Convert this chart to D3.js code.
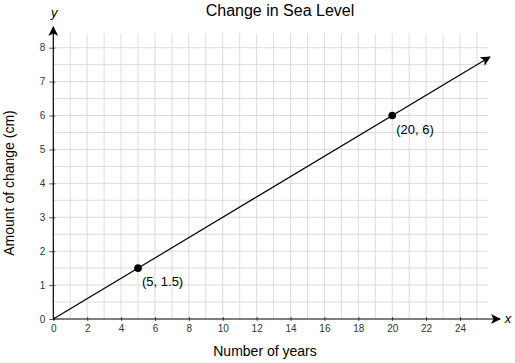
<!DOCTYPE html>
<html>
<head>
<meta charset="utf-8">
<script src="https://cdn.jsdelivr.net/npm/d3@7"></script>
<style>
  body { margin: 0; background: #fff; }
  text { font-family: "Liberation Sans", Arial, sans-serif; }
</style>
</head>
<body>
<div class="chart"></div>
<script>
// データ
var xTicks = [0, 2, 4, 6, 8, 10, 12, 14, 16, 18, 20, 22, 24];
var yTicks = [0, 1, 2, 3, 4, 5, 6, 7, 8];
var pointX = [5, 20];
var pointY = [1.5, 6];
var pointLabels = ["(5, 1.5)", "(20, 6)"];
var lineX = [0, 25.76]; // 直線の始点と終点(矢印)
var slope = 0.3;

var width = 515, height = 363;

// 目盛りの設定
var x = d3.scaleLinear().domain([0, 24]).range([53.3, 460]);
var y = d3.scaleLinear().domain([0, 8]).range([319, 47.7]);

var svg = d3.select("div.chart")
    .append("svg")
    .attr("width", width)
    .attr("height", height);

var defs = svg.append("defs");
defs.append("marker")
    .attr("id", "arrow")
    .attr("viewBox", "0 0 10 10")
    .attr("refX", 9).attr("refY", 5)
    .attr("markerWidth", 10).attr("markerHeight", 10)
    .attr("markerUnits", "userSpaceOnUse")
    .attr("orient", "auto")
    .append("path")
    .attr("d", "M0,0 L10,5 L0,10 L2.5,5 Z")
    .attr("fill", "#000");

// グリッド
var gridXMax = 25.65, gridYMax = 8.42;
var grid = svg.append("g");
grid.selectAll(".vgrid").data(d3.range(1, 26))
    .enter().append("line")
    .attr("x1", function(d) { return x(d); })
    .attr("x2", function(d) { return x(d); })
    .attr("y1", y(0)).attr("y2", y(gridYMax))
    .attr("stroke", "#dcdcdc").attr("stroke-width", 1);
grid.selectAll(".hgrid").data(d3.range(1, 17).map(function(d) { return d / 2; }))
    .enter().append("line")
    .attr("y1", function(d) { return y(d); })
    .attr("y2", function(d) { return y(d); })
    .attr("x1", x(0)).attr("x2", x(gridXMax))
    .attr("stroke", "#dcdcdc").attr("stroke-width", 1);

// X軸
var xAxis = d3.axisBottom(x).tickValues(xTicks).tickSize(4).tickPadding(2);
var gx = svg.append("g")
    .attr("transform", "translate(0," + y(0) + ")")
    .call(xAxis);
gx.select(".domain").remove();
gx.selectAll("line").attr("stroke", "#555").attr("y1", -2).attr("y2", 2);
gx.selectAll("text").style("font-size", "10px").attr("fill", "#333");

// Y軸
var yAxis = d3.axisLeft(y).tickValues(yTicks).tickSize(4).tickPadding(4);
var gy = svg.append("g")
    .attr("transform", "translate(" + x(0) + ",0)")
    .call(yAxis);
gy.select(".domain").remove();
gy.selectAll("line").attr("stroke", "#555").attr("x1", 2).attr("x2", -4);
gy.selectAll("text").style("font-size", "10px").attr("fill", "#333");

// 座標軸の矢印
svg.append("line")
    .attr("x1", x(0)).attr("y1", y(0))
    .attr("x2", 500).attr("y2", y(0))
    .attr("stroke", "#000").attr("stroke-width", 1.2)
    .attr("marker-end", "url(#arrow)");
svg.append("line")
    .attr("x1", x(0)).attr("y1", y(0))
    .attr("x2", x(0)).attr("y2", 27)
    .attr("stroke", "#000").attr("stroke-width", 1.2)
    .attr("marker-end", "url(#arrow)");

svg.append("text").attr("x", 508).attr("y", y(0) + 4)
    .attr("text-anchor", "middle")
    .style("font-size", "13px").style("font-style", "italic")
    .text("x");
svg.append("text").attr("x", x(0) + 1).attr("y", 17)
    .attr("text-anchor", "middle")
    .style("font-size", "13px").style("font-style", "italic")
    .text("y");

// 直線
svg.append("line")
    .attr("x1", x(lineX[0])).attr("y1", y(lineX[0] * slope))
    .attr("x2", x(lineX[1])).attr("y2", y(lineX[1] * slope))
    .attr("stroke", "#000").attr("stroke-width", 1.2)
    .attr("marker-end", "url(#arrow)");

// 点
var pts = pointX.map(function(d, i) { return {x: d, y: pointY[i], label: pointLabels[i]}; });
svg.selectAll(".pt").data(pts).enter().append("circle")
    .attr("cx", function(d) { return x(d.x); })
    .attr("cy", function(d) { return y(d.y); })
    .attr("r", 3.8)
    .attr("fill", "#000");
svg.selectAll(".pt-label").data(pts).enter().append("text")
    .attr("x", function(d) { return x(d.x) + 4; })
    .attr("y", function(d) { return y(d.y) + 18; })
    .style("font-size", "13px")
    .text(function(d) { return d.label; });

// タイトル・ラベル
svg.append("text").attr("x", 280).attr("y", 16)
    .attr("text-anchor", "middle")
    .style("font-size", "16px")
    .text("Change in Sea Level");
svg.append("text").attr("x", 265).attr("y", 356)
    .attr("text-anchor", "middle")
    .style("font-size", "14px")
    .text("Number of years");
svg.append("text")
    .attr("transform", "translate(14,183) rotate(-90)")
    .attr("text-anchor", "middle")
    .style("font-size", "14px")
    .text("Amount of change (cm)");
</script>
</body>
</html>
